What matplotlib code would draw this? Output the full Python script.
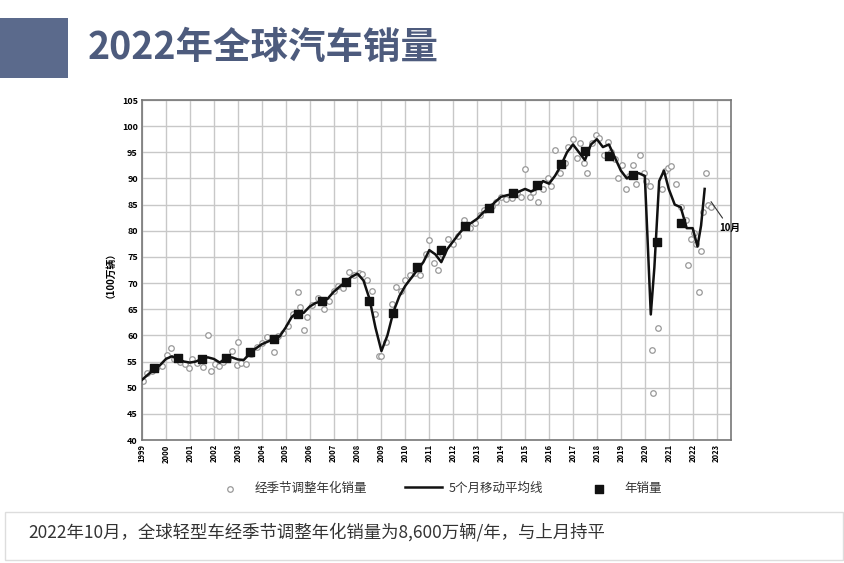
import matplotlib
matplotlib.use("Agg")
import matplotlib.pyplot as plt
from matplotlib.patches import Rectangle

plt.rcParams['font.family'] = ['Noto Sans CJK SC', 'DejaVu Sans']

years = list(range(1999, 2024))
yticks = list(range(40, 106, 5))

line_t = [1999.0,1999.25,1999.5,1999.75,2000.0,2000.25,2000.5,2000.75,2001.0,2001.25,2001.5,2001.75,
          2002.0,2002.25,2002.5,2002.75,2003.0,2003.25,2003.5,2003.75,2004.0,2004.25,2004.5,2004.75,
          2005.0,2005.25,2005.5,2005.75,2006.0,2006.25,2006.5,2006.75,2007.0,2007.25,2007.5,2007.75,
          2008.0,2008.25,2008.5,2008.75,2009.0,2009.25,2009.5,2009.75,2010.0,2010.25,2010.5,2010.75,
          2011.0,2011.25,2011.5,2011.75,2012.0,2012.25,2012.5,2012.75,2013.0,2013.25,2013.5,2013.75,
          2014.0,2014.25,2014.5,2014.75,2015.0,2015.25,2015.5,2015.75,2016.0,2016.25,2016.5,2016.75,
          2017.0,2017.25,2017.5,2017.75,2018.0,2018.25,2018.5,2018.75,2019.0,2019.25,2019.5,2019.75,
          2020.0,2020.1,2020.25,2020.4,2020.6,2020.8,2021.0,2021.25,2021.5,2021.75,2022.0,2022.2,2022.35,2022.5]
line_v = [51.5,52.5,53.5,54.3,55.5,56.0,55.5,55.0,54.8,55.0,55.5,55.8,
          55.5,54.8,55.6,55.8,55.4,55.3,56.5,57.5,58.3,58.8,59.3,59.8,
          61.5,63.5,64.5,64.3,65.5,66.2,66.5,67.0,68.3,69.3,70.2,71.2,
          71.8,70.5,67.0,61.5,57.0,60.0,64.5,67.5,69.5,71.0,72.5,74.0,
          76.3,75.5,74.0,76.5,78.0,79.5,80.8,81.5,82.3,83.5,84.4,85.5,
          86.5,86.8,87.0,87.5,88.0,87.5,88.0,89.5,89.0,90.5,92.5,95.0,
          96.5,95.0,93.5,96.5,97.5,96.0,96.5,94.0,91.5,90.0,90.8,91.0,
          90.5,80.0,64.0,73.0,89.5,91.5,88.0,85.0,84.5,80.5,80.5,77.0,81.0,88.0]

scat_t = [1999.05,1999.2,1999.4,1999.6,1999.85,2000.05,2000.2,2000.35,2000.6,2000.8,2000.95,2001.1,2001.3,
          2001.55,2001.75,2001.9,2002.05,2002.2,2002.4,2002.6,2002.75,2002.95,2003.0,2003.15,2003.35,2003.55,
          2003.8,2004.0,2004.2,2004.5,2004.7,2004.9,2005.1,2005.3,2005.5,2005.6,2005.75,2005.9,2006.1,2006.35,
          2006.6,2006.8,2007.0,2007.2,2007.4,2007.65,2007.85,2008.05,2008.2,2008.4,2008.6,2008.75,2008.9,2009.0,
          2009.2,2009.45,2009.6,2009.8,2010.0,2010.2,2010.4,2010.6,2010.85,2011.0,2011.2,2011.35,2011.55,2011.8,
          2012.0,2012.2,2012.45,2012.7,2012.9,2013.1,2013.3,2013.6,2013.8,2014.0,2014.2,2014.45,2014.65,2014.85,
          2015.0,2015.2,2015.35,2015.55,2015.75,2015.95,2016.1,2016.25,2016.45,2016.65,2016.8,2017.0,2017.15,
          2017.3,2017.45,2017.6,2017.8,2017.95,2018.1,2018.3,2018.45,2018.6,2018.75,2018.9,2019.05,2019.2,2019.35,
          2019.5,2019.65,2019.8,2019.95,2020.05,2020.2,2020.28,2020.35,2020.55,2020.7,2020.85,2020.95,2021.1,
          2021.3,2021.5,2021.7,2021.8,2021.95,2022.05,2022.15,2022.25,2022.35,2022.45,2022.55,2022.65,2022.75]
scat_v = [51.3,52.8,53.2,53.8,54.2,56.3,57.5,55.5,55.0,54.5,53.8,55.5,54.8,
          54.0,60.0,53.2,54.5,54.2,55.0,55.5,57.0,54.3,58.7,54.8,54.5,56.5,
          57.8,58.5,59.6,56.8,59.8,60.5,61.8,64.0,68.3,65.5,61.0,63.5,65.8,67.2,
          65.0,66.5,68.5,69.5,69.0,72.2,71.5,72.0,71.8,70.5,68.5,64.0,56.0,56.0,
          58.8,66.0,69.3,68.5,70.5,71.5,72.0,71.5,75.5,78.2,73.8,72.5,75.5,78.5,
          77.5,79.0,82.0,80.5,81.5,83.0,84.0,84.8,85.5,86.5,86.0,86.3,87.2,86.5,
          91.8,86.5,87.5,85.5,88.0,90.0,88.5,95.5,91.0,93.0,96.0,97.5,94.0,
          96.8,93.0,91.0,96.8,98.3,97.8,94.5,97.0,95.0,93.8,90.0,92.5,88.0,90.5,
          92.5,89.0,94.5,91.0,89.5,88.5,57.2,49.0,61.5,88.0,91.5,92.0,92.3,
          89.0,84.5,82.0,73.5,78.5,79.5,77.5,68.3,76.2,83.5,91.0,85.0,84.5]

ann_t = [y + 0.5 for y in range(1999, 2022)]
ann_v = [53.7,55.6,55.5,55.7,56.9,59.3,64.0,66.6,70.2,66.5,64.2,73.0,76.3,
         81.0,84.4,87.3,88.8,92.8,95.2,94.2,90.6,77.8,81.5]

fig = plt.figure(figsize=(8.45, 5.63), dpi=100)
fig.patch.set_facecolor('white')

fig.patches.append(Rectangle((0, 1 - 78/563), 68/845, 60/563, transform=fig.transFigure,
                             facecolor='#5b6a8c', edgecolor='none'))
fig.text(88/845, 1 - 48/563, '2022年全球汽车销量', fontsize=27, fontweight='bold',
         color='#4d5b7d', va='center', ha='left')

ax = fig.add_axes([142/845, 1 - 440/563, 589/845, 340/563])
ax.set_xlim(1999, 2023.6)
ax.set_ylim(40, 105)
ax.set_xticks(years)
ax.set_xticklabels([str(y) for y in years], rotation=90, fontsize=5.5, fontweight='bold')
ax.set_yticks(yticks)
ax.set_yticklabels([str(y) for y in yticks], fontsize=6.5, fontweight='bold')
ax.tick_params(length=0, pad=3)
ax.grid(True, color='#c8c8c8', linewidth=1.0)
ax.set_axisbelow(True)
for s in ax.spines.values():
    s.set_color('#777777')
    s.set_linewidth(1.2)
ax.set_ylabel('（100万辆）', fontsize=7, fontweight='bold', labelpad=8)

ax.scatter(scat_t, scat_v, s=16, facecolors='white', edgecolors='#999999', linewidths=0.9,
           zorder=2, label='经季节调整年化销量')
ax.plot(line_t, line_v, color='#111111', linewidth=1.8, zorder=3, label='5个月移动平均线')
ax.scatter(ann_t, ann_v, marker='s', s=40, color='#111111', zorder=4, label='年销量')
ax.annotate('10月', xy=(2022.7, 86.0), xytext=(2023.1, 80.5), fontsize=7, fontweight='bold',
            ha='left', va='center',
            arrowprops=dict(arrowstyle='-', color='#333333', lw=0.8))

leg = ax.legend(loc='upper center', bbox_to_anchor=(0.5, -0.09), ncol=3, frameon=False,
                fontsize=9, handlelength=3, columnspacing=3, handletextpad=0.5)
for t in leg.get_texts():
    t.set_color('#333333')

fig.patches.append(Rectangle((5/845, 1 - 560/563), 838/845, 48/563, transform=fig.transFigure,
                             facecolor='white', edgecolor='#dddddd', linewidth=1))
fig.text(28/845, 1 - 532/563, '2022年10月，全球轻型车经季节调整年化销量为8,600万辆/年，与上月持平',
         fontsize=12.5, color='#333333', va='center', ha='left')

fig.savefig('out.png', dpi=100)
